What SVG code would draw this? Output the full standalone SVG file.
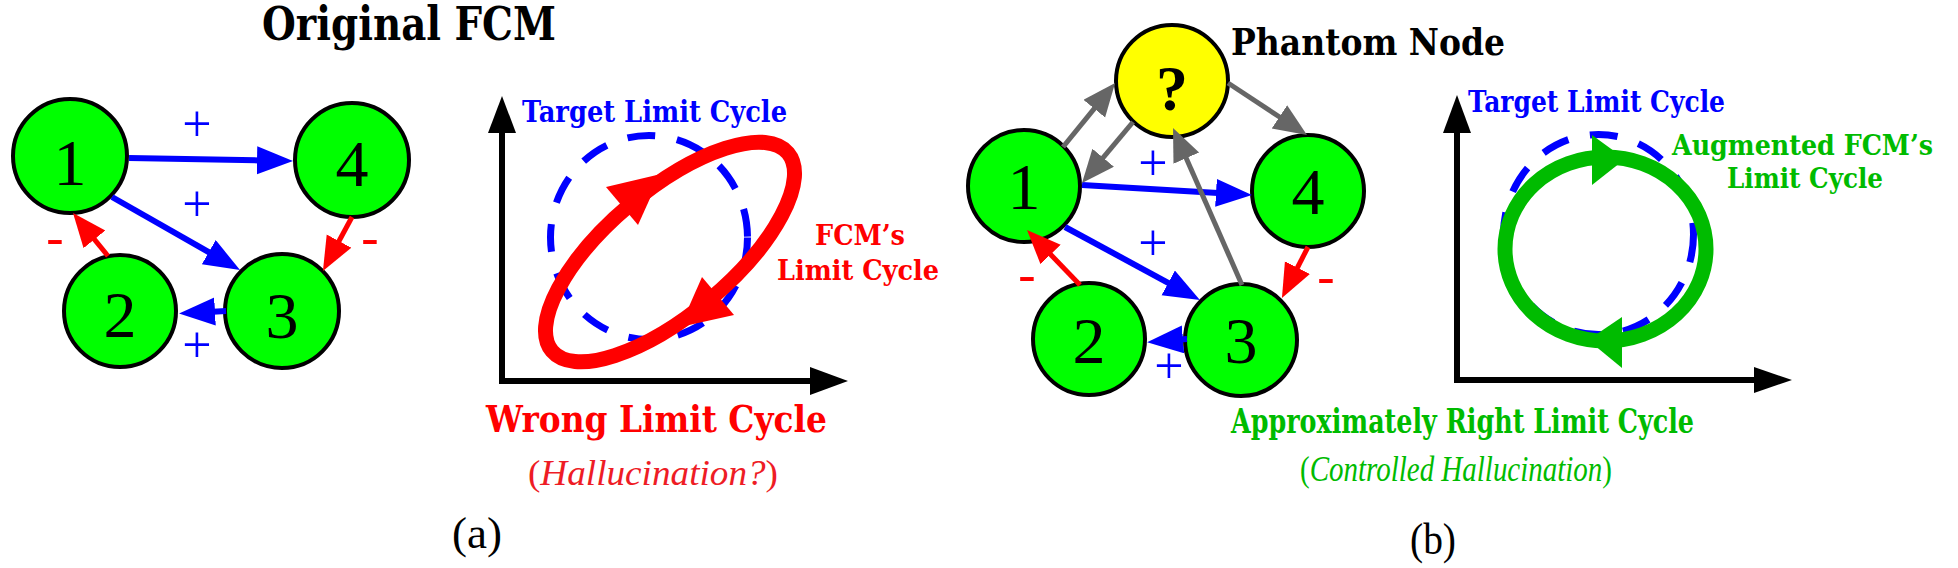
<svg xmlns="http://www.w3.org/2000/svg" width="1958" height="568" viewBox="0 0 1958 568">
<style>
.node{stroke:#000;stroke-width:4}
.g{fill:#00ff00}
.y{fill:#ffff00}
.num{font-family:"Liberation Serif","Times New Roman",serif;font-size:66px;fill:#000;text-anchor:middle}
.q{font-family:"Liberation Serif","Times New Roman",serif;font-size:64px;font-weight:bold;fill:#000;text-anchor:middle}
.sign{font-family:"Liberation Serif","Times New Roman",serif;font-size:52px;text-anchor:middle}
.bl{fill:#0000ff}
.rd{fill:#ff0000}
.eb{stroke:#0000ff;stroke-width:6;fill:none}
.er{stroke:#ff0000;stroke-width:5;fill:none}
.eg{stroke:#666666;stroke-width:5;fill:none}
.bold{font-family:"DejaVu Serif","Liberation Serif",serif;font-weight:bold}
.ital{font-family:"Liberation Serif","Times New Roman",serif;font-style:italic}
.rom{font-family:"Liberation Serif","Times New Roman",serif}
.axis{stroke:#000;stroke-width:6;fill:none;stroke-linejoin:miter}
</style>
<defs>
<marker id="mb" markerUnits="userSpaceOnUse" markerWidth="40" markerHeight="30" refX="2" refY="14" orient="auto"><path d="M0,0 L36,14 L0,28 Z" fill="#0000ff"/></marker>
<marker id="mr" markerUnits="userSpaceOnUse" markerWidth="40" markerHeight="30" refX="2" refY="14" orient="auto"><path d="M0,0 L34,14 L0,28 Z" fill="#ff0000"/></marker>
<marker id="mg" markerUnits="userSpaceOnUse" markerWidth="40" markerHeight="30" refX="2" refY="14" orient="auto"><path d="M0,0 L33,14 L0,28 Z" fill="#666666"/></marker>
</defs>

<!-- Panel (a) -->
<text class="bold" x="262" y="40" font-size="46" textLength="294" lengthAdjust="spacingAndGlyphs" fill="#000">Original FCM</text>

<g id="a-node1"><circle class="node g" cx="70" cy="156" r="57"/><text class="num" x="70" y="185">1</text></g>
<g id="a-node4"><circle class="node g" cx="352" cy="160" r="57"/><text class="num" x="352" y="186">4</text></g>
<g id="a-node2"><circle class="node g" cx="120" cy="311" r="56"/><text class="num" x="120" y="337">2</text></g>
<g id="a-node3"><circle class="node g" cx="282" cy="311" r="57"/><text class="num" x="282" y="338">3</text></g>

<g id="a-connectors">
<line class="eb" x1="129" y1="158" x2="259" y2="160.4" marker-end="url(#mb)"/>
<line class="eb" x1="112" y1="197" x2="210.5" y2="253.2" marker-end="url(#mb)"/>
<line class="eb" x1="226" y1="311" x2="213" y2="311.7" marker-end="url(#mb)"/>
<line class="er" x1="108" y1="256" x2="93.2" y2="237.8" marker-end="url(#mr)"/>
<line class="er" x1="352" y1="217" x2="338.1" y2="242.8" marker-end="url(#mr)"/>
<text class="sign bl" x="197" y="141">+</text>
<text class="sign bl" x="197" y="221">+</text>
<text class="sign bl" x="197" y="362">+</text>
<text class="sign rd" x="55" y="255">-</text>
<text class="sign rd" x="370" y="255">-</text>
</g>

<g id="a-plot">
<polyline class="axis" points="502,130 502,381 812,381"/>
<polygon points="488,133 516,133 502,96" fill="#000"/>
<polygon points="810,367 810,395 848,381" fill="#000"/>
<text class="bold" x="522" y="122" font-size="30" textLength="265" lengthAdjust="spacingAndGlyphs" fill="#0000ff">Target Limit Cycle</text>
<ellipse cx="649" cy="237.5" rx="98.5" ry="102" fill="none" stroke="#0000ff" stroke-width="7" stroke-dasharray="28 22"/>
<ellipse cx="670" cy="252" rx="154" ry="62" transform="rotate(-40 670 252)" fill="none" stroke="#ff0000" stroke-width="15"/>
<polygon points="606,187 638,225 661,174" fill="#ff0000"/>
<polygon points="702,277 734,315 680,327" fill="#ff0000"/>
<text class="bold" x="815" y="245" font-size="27" textLength="90" lengthAdjust="spacingAndGlyphs" fill="#ff0000">FCM’s</text>
<text class="bold" x="777" y="280" font-size="27" textLength="162" lengthAdjust="spacingAndGlyphs" fill="#ff0000">Limit Cycle</text>
<text class="bold" x="486" y="432" font-size="37" textLength="341" lengthAdjust="spacingAndGlyphs" fill="#ff0000">Wrong Limit Cycle</text>
<text x="528" y="485" font-size="35" textLength="250" lengthAdjust="spacingAndGlyphs" fill="#ee1c25"><tspan class="rom">(</tspan><tspan class="ital">Hallucination?</tspan><tspan class="rom">)</tspan></text>
<text class="rom" x="452" y="548" font-size="44" textLength="50" lengthAdjust="spacingAndGlyphs" fill="#000">(a)</text>
</g>

<!-- Panel (b) -->
<g id="b-nodeQ"><circle class="node y" cx="1172" cy="81" r="56"/><text class="q" x="1172" y="110">?</text></g>
<g id="b-node1"><circle class="node g" cx="1024" cy="186" r="56"/><text class="num" x="1024" y="209">1</text></g>
<g id="b-node4"><circle class="node g" cx="1308" cy="191" r="56"/><text class="num" x="1308" y="214">4</text></g>
<g id="b-node2"><circle class="node g" cx="1089" cy="339" r="56"/><text class="num" x="1089" y="363">2</text></g>
<g id="b-node3"><circle class="node g" cx="1241" cy="340" r="56"/><text class="num" x="1241" y="363">3</text></g>
<text class="bold" x="1231" y="55" font-size="37" textLength="274" lengthAdjust="spacingAndGlyphs" fill="#000">Phantom Node</text>

<g id="b-connectors">
<line class="eb" x1="1082" y1="185" x2="1218" y2="193" marker-end="url(#mb)"/>
<line class="eb" x1="1065" y1="227" x2="1170" y2="283.8" marker-end="url(#mb)"/>
<line class="eb" x1="1187" y1="339" x2="1181" y2="339.5" marker-end="url(#mb)"/>
<line class="er" x1="1080" y1="285" x2="1049.2" y2="253" marker-end="url(#mr)"/>
<line class="er" x1="1308" y1="247" x2="1296.5" y2="269.5" marker-end="url(#mr)"/>
<line class="eg" x1="1063" y1="147" x2="1095.5" y2="107.1" marker-end="url(#mg)"/>
<line class="eg" x1="1133" y1="122" x2="1101.9" y2="159.2" marker-end="url(#mg)"/>
<line class="eg" x1="1228" y1="83" x2="1281.1" y2="118" marker-end="url(#mg)"/>
<line class="eg" x1="1242" y1="285" x2="1185.5" y2="156.4" marker-end="url(#mg)"/>
<text class="sign bl" x="1153" y="180">+</text>
<text class="sign bl" x="1153" y="260">+</text>
<text class="sign bl" x="1169" y="383">+</text>
<text class="sign rd" x="1027" y="292">-</text>
<text class="sign rd" x="1326" y="294">-</text>
</g>

<g id="b-plot">
<polyline class="axis" points="1457,130 1457,380 1756,380"/>
<polygon points="1443,133 1471,133 1457,95" fill="#000"/>
<polygon points="1754,367 1754,393 1792,380" fill="#000"/>
<text class="bold" x="1468" y="112" font-size="29" textLength="257" lengthAdjust="spacingAndGlyphs" fill="#0000ff">Target Limit Cycle</text>
<ellipse cx="1598.5" cy="234.5" rx="95" ry="100" fill="none" stroke="#0000ff" stroke-width="7" stroke-dasharray="28 22"/>
<ellipse cx="1605.5" cy="249" rx="100.5" ry="92" fill="none" stroke="#00bb00" stroke-width="15"/>
<polygon points="1592,135 1592,185 1625,159" fill="#00bb00"/>
<polygon points="1622,317 1622,368 1588,340" fill="#00bb00"/>
<text class="bold" x="1672" y="155" font-size="27" textLength="261" lengthAdjust="spacingAndGlyphs" fill="#00bb00">Augmented FCM’s</text>
<text class="bold" x="1727" y="188" font-size="27" textLength="156" lengthAdjust="spacingAndGlyphs" fill="#00bb00">Limit Cycle</text>
<text class="bold" x="1231" y="433" font-size="34" textLength="463" lengthAdjust="spacingAndGlyphs" fill="#00bb00">Approximately Right Limit Cycle</text>
<text x="1300" y="481" font-size="35" textLength="312" lengthAdjust="spacingAndGlyphs" fill="#00bb00"><tspan class="rom">(</tspan><tspan class="ital">Controlled Hallucination</tspan><tspan class="rom">)</tspan></text>
<text class="rom" x="1410" y="554" font-size="44" textLength="46" lengthAdjust="spacingAndGlyphs" fill="#000">(b)</text>
</g>
</svg>
